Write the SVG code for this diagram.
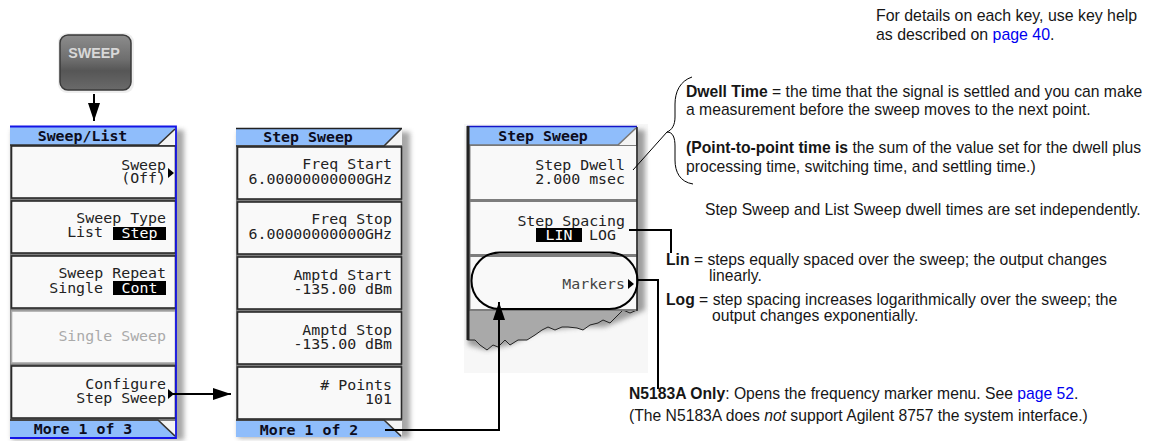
<svg xmlns="http://www.w3.org/2000/svg" width="1160" height="441" viewBox="0 0 1160 441">
<style>
.sk{font-family:"DejaVu Sans Mono","Liberation Mono",monospace;font-size:14.9px;fill:#222;text-anchor:end}
.hd{font-family:"DejaVu Sans Mono","Liberation Mono",monospace;font-size:14.9px;font-weight:bold;fill:#0c0c20;text-anchor:middle}
.inv{fill:#fff;text-anchor:middle}
.dim{fill:#aaa}.mid{fill:#444}
.btn{fill:#f9f9f9;stroke:#2a2a2a;stroke-width:1.6}
.btnd{fill:#f9f9f9;stroke:#a8a8a8;stroke-width:1.6}
.sep{fill:#7d7d7d}
.blue{fill:#8fbdfb}
.edge{fill:none;stroke:#333;stroke-width:1.6}
.tx{font-family:"Liberation Sans",Arial,sans-serif;font-size:15.7px;fill:#161616}
.b{font-weight:bold}.lnk{fill:#0000f0}
.c{fill:none;stroke:#000;stroke-width:2}
.thin{fill:none;stroke:#000;stroke-width:1}
.tri{fill:#000}
</style>
<defs>
<filter id="blur" x="-30%" y="-30%" width="160%" height="160%"><feGaussianBlur stdDeviation="2.5"/></filter>
<linearGradient id="key" x1="0" y1="0" x2="0" y2="1"><stop offset="0" stop-color="#8c8c8c"/><stop offset="0.45" stop-color="#6e6e6e"/><stop offset="0.65" stop-color="#565656"/><stop offset="1" stop-color="#6a6a6a"/></linearGradient>
<marker id="big" markerUnits="userSpaceOnUse" markerWidth="20" markerHeight="14" refX="19" refY="7" orient="auto"><path d="M1 1L19 7L1 13Z" fill="#000"/></marker>
</defs>

<g id="sweep-key">
<rect x="58" y="33" width="76" height="60" rx="9" fill="#eee"/>
<rect x="60" y="35" width="71" height="55" rx="8" fill="url(#key)" stroke="#3a3a3a" stroke-width="1.5"/>
<text x="94" y="58" font-family="Liberation Sans,Arial,sans-serif" font-size="14.300" font-weight="bold" fill="#d8d8d8" text-anchor="middle">SWEEP</text>
</g>

<g id="panel-sweep-list">
<rect x="12" y="130" width="172" height="310" fill="#8a8a8a" opacity=".75" filter="url(#blur)"/>
<rect x="10" y="126" width="166" height="312" class="sep"/>
<path class="blue" d="M10 127H176L158 145H10Z"/>
<path d="M176 127V145H158Z" fill="#f4f4f4"/>
<path class="edge" d="M10 145H158L175 129"/>
<rect x="11.500" y="146" width="164" height="52" class="btn"/>
<rect x="11.500" y="201" width="164" height="52" class="btn"/>
<rect x="11.500" y="256" width="164" height="52" class="btn"/>
<rect x="11.500" y="311" width="164" height="52" class="btnd"/>
<rect x="11.500" y="366" width="164" height="52" class="btn"/>
<path class="blue" d="M10 421H158L175 437H10Z"/>
<path d="M176 421V437L158 421Z" fill="#f4f4f4"/>
<path class="edge" d="M10 420H158L175 436"/>
<path d="M10 126.500H176V438H10" fill="none" stroke="#1414e6" stroke-width="1.800"/>
<text class="hd" x="82.500" y="141">Sweep/List</text>
<text class="sk" x="166" y="170">Sweep</text><text class="sk" x="166" y="183">(Off)</text>
<path class="tri" d="M168 168L174 173L168 178Z"/>
<text class="sk" x="166" y="223">Sweep Type</text><text class="sk" x="103" y="237">List</text>
<rect x="113" y="227" width="53" height="13" fill="#000"/><text class="sk inv" x="139.500" y="238">Step</text>
<text class="sk" x="166" y="278">Sweep Repeat</text><text class="sk" x="103" y="293">Single</text>
<rect x="113" y="281" width="53" height="14" fill="#000"/><text class="sk inv" x="139.500" y="293">Cont</text>
<text class="sk dim" x="166" y="341">Single Sweep</text>
<text class="sk" x="166" y="389">Configure</text><text class="sk" x="166" y="403">Step Sweep</text>
<path class="tri" d="M168 389L174 394L168 399Z"/>
<text class="hd" x="83" y="434">More 1 of 3</text>
</g>

<g id="panel-step-sweep-1">
<rect x="238" y="132" width="172" height="306" fill="#8a8a8a" opacity=".75" filter="url(#blur)"/>
<rect x="236" y="128" width="166" height="309" class="sep"/>
<path class="blue" d="M236 129H402L384 145H236Z"/>
<path d="M402 129V145H384Z" fill="#f4f4f4"/>
<path class="edge" d="M236 146H384L401 129"/>
<path d="M236 128.500H402" stroke="#222" stroke-width="1.500"/>
<rect x="237.500" y="147" width="164" height="52" class="btn"/>
<rect x="237.500" y="202" width="164" height="52" class="btn"/>
<rect x="237.500" y="257" width="164" height="52" class="btn"/>
<rect x="237.500" y="312" width="164" height="52" class="btn"/>
<rect x="237.500" y="367" width="164" height="52" class="btn"/>
<path class="blue" d="M236 421H384L401 437H236Z"/>
<path d="M402 421V437L384 421Z" fill="#f4f4f4"/>
<path class="edge" d="M236 420H384L401 436"/>
<text class="hd" x="308" y="142">Step Sweep</text>
<text class="sk" x="392" y="169">Freq Start</text><text class="sk" x="392" y="184">6.00000000000GHz</text>
<text class="sk" x="392" y="224">Freq Stop</text><text class="sk" x="392" y="239">6.00000000000GHz</text>
<text class="sk" x="392" y="280">Amptd Start</text><text class="sk" x="392" y="294">-135.00 dBm</text>
<text class="sk" x="392" y="335">Amptd Stop</text><text class="sk" x="392" y="349">-135.00 dBm</text>
<text class="sk" x="392" y="390"># Points</text><text class="sk" x="392" y="404">101</text>
<text class="hd" x="309" y="435">More 1 of 2</text>
</g>

<g id="panel-step-sweep-2">
<rect x="464" y="124" width="184" height="249" fill="#f7f7f7"/>
<path d="M469 130H645V312L645 310L622 320L605 327L580 327L540 331L510 345L486 350L468 345Z" fill="#888" opacity=".8" filter="url(#blur)"/>
<path d="M467.500 250V340L475 340L480 345L487 350L493 345L498 347L505 340L510 345L518 340L527 340L535 335L542 330L548 327L555 330L562 327L568 327L577 328L583 330L590 325L598 323L603 320L610 323L618 315L623 310L630 313L637 310V250Z" fill="#a9a9a9" stroke="#222" stroke-width="1"/>
<rect x="467" y="126" width="170" height="185" class="sep"/>
<path class="blue" d="M468 127H636L618 145H468Z"/>
<path d="M636 127V145H618Z" fill="#f4f4f4"/>
<path d="M468 145H618L636 128" fill="none" stroke="#777" stroke-width="1.600"/>
<path d="M467 126.500H637" stroke="#1414c8" stroke-width="1.500"/>
<rect x="470.500" y="146" width="166" height="53" fill="#f9f9f9"/>
<rect x="470.500" y="202" width="166" height="52" fill="#f9f9f9"/>
<rect x="470.500" y="257" width="166" height="52" fill="#f9f9f9"/>
<path d="M468 126V340" stroke="#222" stroke-width="3"/>
<path d="M637 127V311" stroke="#222" stroke-width="1.500"/>
<text class="hd" x="543" y="141">Step Sweep</text>
<text class="sk" x="625" y="170">Step Dwell</text><text class="sk" x="625" y="184">2.000 msec</text>
<text class="sk" x="625" y="226">Step Spacing</text>
<rect x="536" y="228" width="46" height="14" fill="#000"/><text class="sk inv" x="559" y="240">LIN</text>
<text class="sk" x="616" y="240">LOG</text>
<text class="sk mid" x="625" y="289">Markers</text>
<path class="tri" d="M628 279L634 284L628 289Z"/>
<rect x="471.500" y="252.500" width="166" height="56.500" rx="28" fill="none" stroke="#000" stroke-width="2"/>
</g>

<g id="connectors">
<path class="c" d="M94 94V121" marker-end="url(#big)"/>
<path class="c" d="M170 394H231" marker-end="url(#big)"/>
<path class="c" d="M385 430H499V302" marker-end="url(#big)"/>
<path class="c" d="M637 280H658V389"/>
<path class="c" d="M629 230H671V253"/>
<path class="thin" d="M633 170L667 132"/>
<path class="thin" d="M692 77C680 81 675 92 675 104V117C675 125 672 130 667 132C673 132 675 138 675 146V160C675 172 680 182 693 184"/>
</g>

<g id="notes">
<text class="tx" x="876" y="21" style="font-size:15.9px">For details on each key, use key help</text>
<text class="tx" x="876" y="40" style="font-size:15.9px">as described on <tspan class="lnk">page 40</tspan>.</text>
<text class="tx" x="686" y="97"><tspan class="b">Dwell Time</tspan> = the time that the signal is settled and you can make</text>
<text class="tx" x="686" y="115">a measurement before the sweep moves to the next point.</text>
<text class="tx" x="686" y="153"><tspan class="b">(Point-to-point time is</tspan> the sum of the value set for the dwell plus</text>
<text class="tx" x="686" y="172">processing time, switching time, and settling time.)</text>
<text class="tx" x="705" y="215">Step Sweep and List Sweep dwell times are set independently.</text>
<text class="tx" x="666" y="265"><tspan class="b">Lin</tspan> = steps equally spaced over the sweep; the output changes</text>
<text class="tx" x="709" y="281">linearly.</text>
<text class="tx" x="666" y="305"><tspan class="b">Log</tspan> = step spacing increases logarithmically over the sweep; the</text>
<text class="tx" x="712" y="321">output changes exponentially.</text>
<text class="tx" x="629" y="399"><tspan class="b">N5183A Only</tspan>: Opens the frequency marker menu. See <tspan class="lnk">page 52</tspan>.</text>
<text class="tx" x="629" y="421">(The N5183A does <tspan font-style="italic">not</tspan> support Agilent 8757 the system interface.)</text>
</g>
</svg>
